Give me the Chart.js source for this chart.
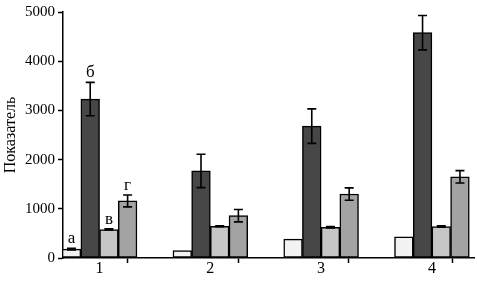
<!DOCTYPE html>
<html>
<head>
<meta charset="utf-8">
<script src="https://cdn.jsdelivr.net/npm/chart.js@4"></script>
<style>
  body { margin: 0; background: #fff; }
  #wrap { width: 477px; height: 283px; }
</style>
</head>
<body>
<div id="wrap"><canvas id="plot" width="477" height="283"></canvas></div>
<script>
const categories = ['1', '2', '3', '4'];
const letters = ['а', 'б', 'в', 'г'];
const seriesA = [180, 150, 385, 430];
const errA = [15, 0, 0, 0];
const seriesB = [3230, 1770, 2680, 4580];
const errB = [340, 340, 350, 350];
const seriesC = [580, 645, 625, 640];
const errC = [12, 8, 15, 12];
const seriesD = [1160, 860, 1300, 1650];
const errD = [120, 125, 125, 125];
const yTicks = [0, 1000, 2000, 3000, 4000, 5000];

const serif = 'Liberation Serif';

function pts(values) {
  return values.map((v, i) => ({ x: i + 1, y: v }));
}

const errPlugin = {
  id: 'errbars',
  afterDatasetsDraw(chart) {
    const ctx = chart.ctx;
    const ys = chart.scales.y;
    ctx.save();
    ctx.strokeStyle = '#000';
    ctx.lineWidth = 1.6;
    chart.data.datasets.forEach((ds, di) => {
      const meta = chart.getDatasetMeta(di);
      meta.data.forEach((bar, i) => {
        const v = ds.data[i].y;
        const e = ds.err[i];
        const top = ys.getPixelForValue(v + e);
        if (e > 0) {
          const bot = ys.getPixelForValue(v - e);
          ctx.beginPath();
          ctx.moveTo(bar.x, top);
          ctx.lineTo(bar.x, bot);
          ctx.moveTo(bar.x - 4.5, top);
          ctx.lineTo(bar.x + 4.5, top);
          ctx.moveTo(bar.x - 4.5, bot);
          ctx.lineTo(bar.x + 4.5, bot);
          ctx.stroke();
        }
        if (i === 0) {
          ctx.fillStyle = '#000';
          ctx.font = '17px "' + serif + '"';
          ctx.textAlign = 'center';
          ctx.textBaseline = 'alphabetic';
          ctx.fillText(letters[di], bar.x, top - 5);
        }
      });
    });
    ctx.restore();
  }
};

function makeSet(values, errs, color) {
  return {
    data: pts(values),
    err: errs,
    backgroundColor: color,
    borderColor: '#000',
    borderWidth: 1.5,
    borderSkipped: false,
    barThickness: 18.7
  };
}

function isCenter(c) {
  return c && c.tick && Number.isInteger(c.tick.value);
}

new Chart(document.getElementById('plot'), {
  type: 'bar',
  data: {
    datasets: [
      makeSet(seriesA, errA, '#f2f2f2'),
      makeSet(seriesB, errB, '#474747'),
      makeSet(seriesC, errC, '#c6c6c6'),
      makeSet(seriesD, errD, '#a3a3a3')
    ]
  },
  options: {
    responsive: false,
    animation: false,
    layout: { padding: { top: 1, right: 3, bottom: 0, left: 0 } },
    plugins: { legend: { display: false }, tooltip: { enabled: false } },
    scales: {
      x: {
        type: 'linear',
        offset: false,
        min: 0.67,
        max: 4.38,
        afterBuildTicks(s) {
          const vals = [s.min];
          categories.forEach((c, i) => {
            vals.push(i + 1);
            if (i < categories.length - 1) vals.push(i + 1.5);
          });
          vals.push(s.max);
          s.ticks = vals.map(v => ({ value: v }));
        },
        afterFit(s) { s.height = 25; },
        ticks: {
          autoSkip: false,
          maxRotation: 0,
          padding: -4,
          color: '#000',
          font: { family: serif, size: 16 },
          callback: v => Number.isInteger(v) ? categories[v - 1] : ''
        },
        grid: {
          drawOnChartArea: false,
          tickLength: 5,
          tickWidth: 1.5,
          tickColor: c => isCenter(c) ? 'rgba(0,0,0,0)' : '#000'
        },
        border: { color: '#000', width: 1.5 }
      },
      y: {
        min: 0,
        max: 5000,
        afterBuildTicks(s) { s.ticks = yTicks.map(v => ({ value: v })); },
        afterFit(s) { s.width = 63; },
        ticks: {
          padding: 3,
          color: '#000',
          font: { family: serif, size: 15 },
          callback: v => String(v)
        },
        grid: {
          drawOnChartArea: false,
          tickLength: 5,
          tickWidth: 1.5,
          tickColor: '#000'
        },
        border: { color: '#000', width: 1.5 },
        title: {
          display: true,
          text: 'Показатель',
          color: '#000',
          padding: { top: 1, bottom: 0 },
          font: { family: serif, size: 16 }
        }
      }
    }
  },
  plugins: [errPlugin]
});
</script>
</body>
</html>
